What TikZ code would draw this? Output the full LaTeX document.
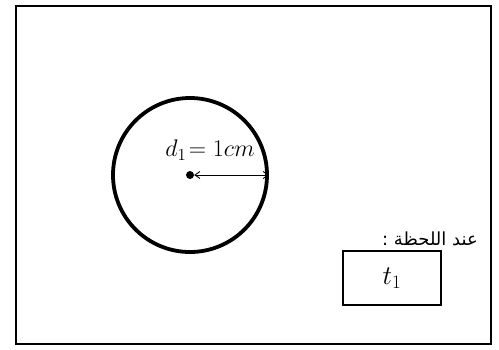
\RequirePackage{fix-cm}
\documentclass[tikz,border=0pt]{standalone}
\usepackage{fontspec}
\usepackage{tikz}
\usetikzlibrary{arrows.meta,positioning}
\newfontfamily\arabicfont[Script=Arabic]{DejaVu Sans}
\TeXXeTstate=1

\begin{document}
\begin{tikzpicture}[x=1pt,y=-1pt,>={Straight Barb[length=5pt,width=7pt]}]
  \useasboundingbox (0,0) rectangle (499,349);
  % outer frame
  \draw[line width=2.6pt] (16,6) rectangle (491,344);
  % circle with its centre
  \node[draw,circle,line width=3.8pt,minimum size=154pt,inner sep=0pt]
        (C) at (190,175) {};
  \node[fill,circle,inner sep=0pt,minimum size=8pt] (O) at (C.center) {};
  % radius arrow
  \draw[<->,line width=0.9pt] (O.east) -- (C.east);
  \node[font=\fontsize{24}{28}\selectfont,inner sep=0pt]
        (D) at (210,150) {$d_1\!=1cm$};
  % time label and box
  \node[draw,line width=1.8pt,minimum width=98pt,minimum height=54pt,
        font=\fontsize{27}{32}\selectfont]
        (T) at (392,278) {$t_1$};
  \node[font=\arabicfont\fontsize{18}{21}\selectfont,anchor=south east,inner sep=0pt]
        (L) at (478,246) {\beginR عند اللحظة :\endR};
\end{tikzpicture}
\end{document}
